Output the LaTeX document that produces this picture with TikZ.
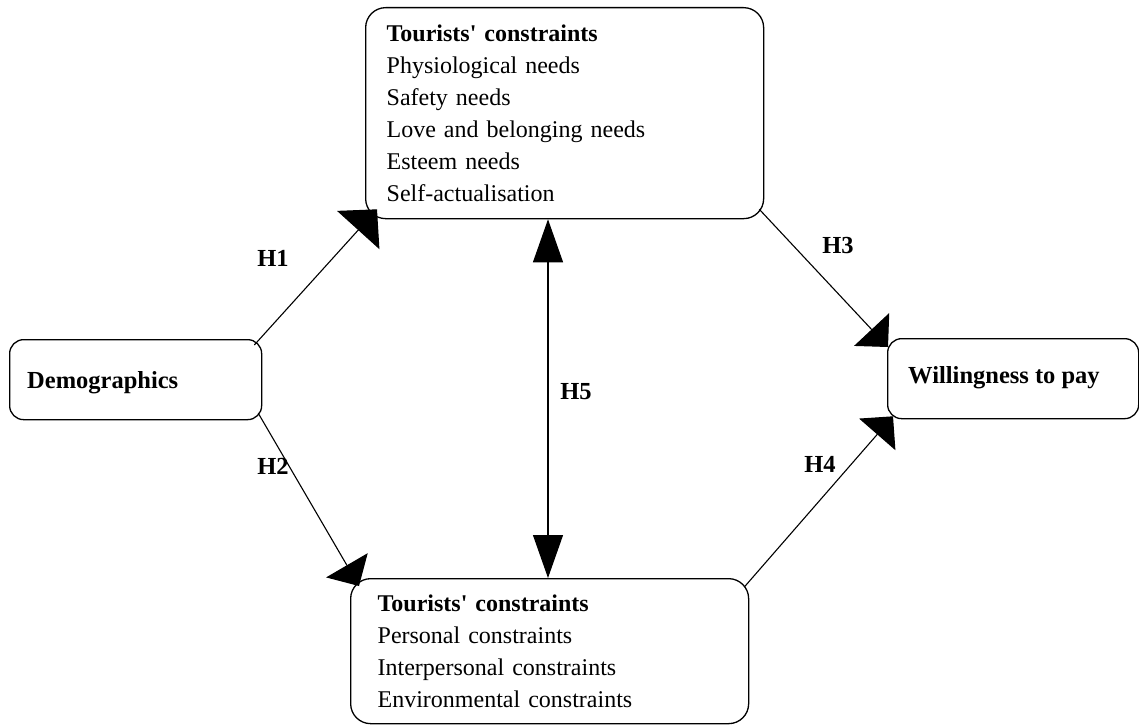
\documentclass[tikz,border=0pt]{standalone}
\usepackage{fontspec}
\setmainfont{Liberation Serif}
\usetikzlibrary{arrows.meta,calc}
\begin{document}
\begin{tikzpicture}[x=1pt,y=-1pt,
  every node/.style={font=\fontsize{24}{32}\selectfont},
  box/.style={draw, line width=1.3pt, rounded corners=20pt, align=left, anchor=north west},
  smallbox/.style={draw, line width=1.3pt, rounded corners=14pt, anchor=north west, inner sep=0pt, text height=17pt, text depth=5pt},
  conn/.style={line width=1.1pt},
  hlabel/.style={font=\fontsize{24.5}{32}\selectfont\bfseries},
  tipA/.tip={Triangle[length=28pt,width=57pt]},
  tipB/.tip={Triangle[length=24pt,width=48pt]},
  tipV/.tip={Triangle[length=43pt,width=30pt]}
]
\useasboundingbox (0,0) rectangle (1139,725);

\node[box, minimum width=398pt, minimum height=211pt, inner xsep=21pt, inner ysep=0pt, text width=356pt] (top) at (365,7)
  {\textbf{Tourists\textquotesingle\ constraints}\\Physiological needs\\Safety needs\\Love and belonging needs\\Esteem needs\\Self-actualisation};

\node[box, minimum width=398pt, minimum height=145pt, inner xsep=27pt, inner ysep=0pt, text width=344pt] (bot) at (350,578)
  {\textbf{Tourists\textquotesingle\ constraints}\\Personal constraints\\Interpersonal constraints\\Environmental constraints};

\node[smallbox, minimum width=252pt, minimum height=80pt] (demo) at (9,339) {};
\node[anchor=west, inner sep=0pt, font=\fontsize{24.5}{32}\selectfont\bfseries] (demot) at ($(demo.west)+(18,3)$) {Demographics};

\node[smallbox, minimum width=251pt, minimum height=80pt] (will) at (887,338) {};
\node[anchor=west, inner sep=0pt, font=\fontsize{24.5}{32}\selectfont\bfseries] (willt) at ($(will.west)+(21,-1)$) {Willingness to pay};

\draw[conn, -tipA] ([shift={(-8,6)}]demo.north east) -- ([shift={(12,-10)}]top.south west);
\draw[conn, -tipB] ([shift={(-4,-7)}]demo.south east) -- ([shift={(9,8)}]bot.north west);
\draw[conn, -tipB] ([shift={(-5,-10)}]top.south east) -- ([shift={(1,9)}]will.north west);
\draw[conn, -tipB] ([shift={(-5,9)}]bot.north east) -- ([shift={(6,-3)}]will.south west);

\coordinate (h5) at (548,400);
\draw[conn, tipV-tipV] (h5 |- top.south) -- (h5 |- bot.north);

\node[hlabel] (h1) at (273,258) {H1};
\node[hlabel] (h2) at (273,466) {H2};
\node[hlabel] (h3) at (838,246) {H3};
\node[hlabel] (h4) at (820,464) {H4};
\node[hlabel] (h5l) at (576,392) {H5};
\end{tikzpicture}
\end{document}
